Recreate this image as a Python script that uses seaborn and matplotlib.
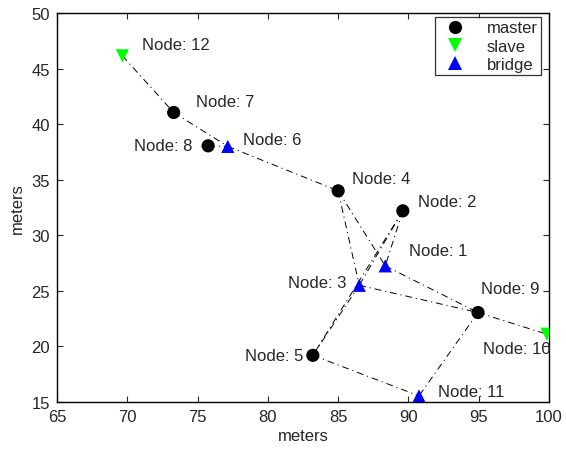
import matplotlib
matplotlib.use("Agg")
import matplotlib.pyplot as plt
import seaborn as sns
import pandas as pd

node_ids = [1, 2, 3, 4, 5, 6, 7, 8, 9, 10, 11, 12]
node_x = [88.35, 89.6, 86.5, 85.0, 83.2, 77.15, 73.3, 75.75, 94.95, 99.85, 90.75, 69.65]
node_y = [27.25, 32.2, 25.5, 34.0, 19.2, 38.0, 41.05, 38.05, 23.05, 21.1, 15.55, 46.15]
node_role = ["bridge", "master", "bridge", "master", "master", "bridge",
             "master", "master", "master", "slave", "bridge", "slave"]
edges = [(12, 7), (7, 6), (8, 6), (6, 4), (4, 3), (4, 1), (2, 5), (2, 3),
         (5, 3), (2, 1), (3, 9), (1, 9), (9, 10), (9, 11), (5, 11)]
roles = ["master", "slave", "bridge"]
role_colors = {"master": "#000000", "slave": "#00FF00", "bridge": "#0000FF"}
role_markers = {"master": "o", "slave": "v", "bridge": "^"}

# label offsets in points (dx, dy, ha)
label_offsets = {1: (17, 11, "left"), 2: (11, 7, "left"), 3: (-9, 2, "right"),
                 4: (10, 9, "left"), 5: (-7, 0, "right"), 6: (11, 5, "left"),
                 7: (16, 8, "left"), 8: (-11, 0, "right"), 9: (2, 17, "left"),
                 10: (-46, -10, "left"), 11: (14, 3, "left"), 12: (14, 8, "left")}

FS = 12

sns.set_style("ticks")
plt.rcParams["font.family"] = ["Liberation Sans", "DejaVu Sans"]
plt.rcParams["font.size"] = FS

df = pd.DataFrame({"id": node_ids, "x": node_x, "y": node_y, "role": node_role})

fig = plt.figure(figsize=(5.66, 4.52), dpi=100)
ax = fig.add_axes([0.1007, 0.1084, 0.8693, 0.8606])

pos = {i: (x, y) for i, x, y in zip(node_ids, node_x, node_y)}
for a, b in edges:
    ax.plot([pos[a][0], pos[b][0]], [pos[a][1], pos[b][1]], color="black",
            linestyle=(0, (7, 4, 1.2, 4)), linewidth=0.7, zorder=1)

sns.scatterplot(data=df, x="x", y="y", hue="role", style="role",
                hue_order=roles, style_order=roles,
                palette=role_colors, markers=role_markers, s=90,
                edgecolor="none", linewidth=0, ax=ax, zorder=3)

for i, x, y in zip(node_ids, node_x, node_y):
    dx, dy, ha = label_offsets[i]
    ax.annotate(f"Node: {i}", (x, y), xytext=(dx, dy), textcoords="offset points",
                ha=ha, va="center", fontsize=FS, zorder=4)

ax.set_xlim(65, 100)
ax.set_ylim(15, 50)
ax.set_xticks(range(65, 101, 5))
ax.set_yticks(range(15, 51, 5))
ax.set_xlabel("meters", fontsize=FS, labelpad=3)
ax.set_ylabel("meters", fontsize=FS, labelpad=5)
ax.tick_params(direction="in", top=True, right=True, length=4, width=0.8,
               labelsize=FS, pad=5)
for sp in ax.spines.values():
    sp.set_visible(True)
    sp.set_linewidth(1.0)
    sp.set_color("black")

leg = ax.legend(loc="upper right", bbox_to_anchor=(0.9837, 0.9897),
                frameon=True, fancybox=False, edgecolor="black",
                handletextpad=0.9, borderpad=0.2, labelspacing=0.2,
                handlelength=2.0, borderaxespad=0.0, fontsize=FS)
leg.get_frame().set_linewidth(0.9)
leg.set_title(None)

fig.savefig("out.png", dpi=100)
